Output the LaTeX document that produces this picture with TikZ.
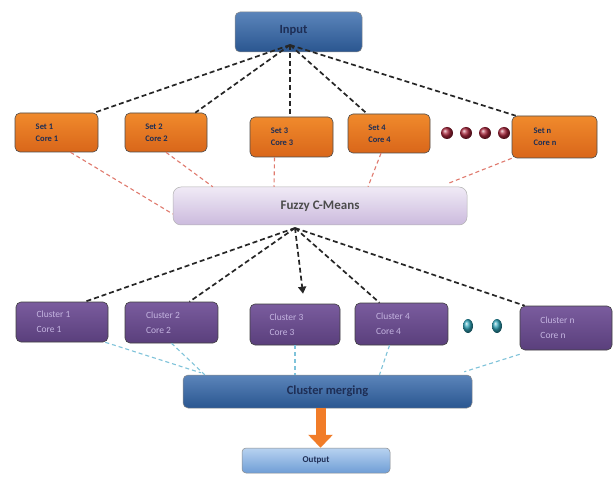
\documentclass[tikz,border=0pt]{standalone}
\usepackage{fontspec}
\setmainfont{Carlito}
\usetikzlibrary{arrows.meta,shadows}
\definecolor{inblue}{HTML}{3E6FAE}
\definecolor{indark}{HTML}{2A5690}
\definecolor{navy}{HTML}{1E2E55}
\definecolor{orangeA}{HTML}{F08A2C}
\definecolor{orangeB}{HTML}{D9661A}
\definecolor{lavA}{HTML}{F0EAF6}
\definecolor{lavB}{HTML}{CBBADD}
\definecolor{purA}{HTML}{7A5C9E}
\definecolor{purB}{HTML}{5A3F7C}
\definecolor{clText}{HTML}{C4B4E0}
\definecolor{outA}{HTML}{B8D2F0}
\definecolor{outB}{HTML}{6F9ED6}
\definecolor{redDash}{HTML}{E07A6E}
\definecolor{cyanDash}{HTML}{7FC3DA}
\definecolor{dotRed}{HTML}{A8243A}
\definecolor{dotTeal}{HTML}{2FA3B8}
\tikzset{
  setbox/.style={draw=black!70, line width=0.6pt, rounded corners=5pt,
    top color=orangeA, bottom color=orangeB, align=left, text=navy,
    font=\bfseries\fontsize{8.5}{12}\selectfont, inner sep=0pt},
  clbox/.style={draw=black!75, line width=0.6pt, rounded corners=5pt,
    top color=purA, bottom color=purB, align=left, text=clText,
    font=\fontsize{9.5}{15}\selectfont, inner sep=0pt},
  bluebox/.style={draw=black!45, line width=0.5pt, rounded corners=5pt,
    top color=inblue!85, bottom color=indark, text=navy},
  blkdash/.style={black!85, dash pattern=on 5pt off 3pt, line width=1.7pt},
  reddash/.style={redDash, dash pattern=on 4pt off 3pt, line width=1.1pt},
  cyandash/.style={cyanDash, dash pattern=on 4pt off 3pt, line width=1.1pt},
}
\begin{document}
\begin{tikzpicture}[x=1pt,y=-1pt]
\useasboundingbox (0,0) rectangle (615,478);
\fill[white] (0,0) rectangle (615,478);

% hubs where the dashed fans meet
\coordinate (hubA) at (290,45);
\coordinate (hubB) at (295,228);

% top row: data sets
\node[setbox, minimum width=83pt, minimum height=39pt] (s1) at (56.5,132.5) {\hspace*{-19pt}Set 1\\\hspace*{-19pt}Core 1};
\node[setbox, minimum width=82pt, minimum height=39pt] (s2) at (166,132.5) {\hspace*{-19pt}Set 2\\\hspace*{-19pt}Core 2};
\node[setbox, minimum width=83pt, minimum height=40pt] (s3) at (291.5,137) {\hspace*{-19pt}Set 3\\\hspace*{-19pt}Core 3};
\node[setbox, minimum width=82pt, minimum height=39pt] (s4) at (389,133.5) {\hspace*{-19pt}Set 4\\\hspace*{-19pt}Core 4};
\node[setbox, minimum width=85pt, minimum height=42pt] (sn) at (554.5,137) {\hspace*{-19pt}Set n\\\hspace*{-19pt}Core n};
\foreach \x in {447,466,485,504}
  \shade[ball color=dotRed] (\x,133) circle (6pt);

% fuzzy c-means bar
\node[draw=black!30, line width=0.5pt, rounded corners=8pt, top color=lavA, bottom color=lavB,
      minimum width=294pt, minimum height=38pt, text=black!70,
      font=\bfseries\fontsize{13}{15}\selectfont] (fz) at (320,206) {Fuzzy C-Means};

% input box
\node[bluebox, minimum width=127pt, minimum height=40pt,
      font=\bfseries\fontsize{12.5}{14}\selectfont] (in) at (298.5,32) {\hspace*{-10pt}\raisebox{6pt}{Input}};

% cluster row
\node[clbox, minimum width=92pt, minimum height=40pt] (c1) at (62,322) {\hspace*{-17pt}Cluster 1\\\hspace*{-17pt}Core 1};
\node[clbox, minimum width=93pt, minimum height=41pt] (c2) at (171.5,322.5) {\hspace*{-17pt}Cluster 2\\\hspace*{-17pt}Core 2};
\node[clbox, minimum width=90pt, minimum height=41pt] (c3) at (295,324.5) {\hspace*{-17pt}Cluster 3\\\hspace*{-17pt}Core 3};
\node[clbox, minimum width=93pt, minimum height=42pt] (c4) at (401.5,324) {\hspace*{-17pt}Cluster 4\\\hspace*{-17pt}Core 4};
\node[clbox, minimum width=92pt, minimum height=44pt] (cn) at (566,328) {\hspace*{-17pt}Cluster n\\\hspace*{-17pt}Core n};
\foreach \x in {468,497}
  \shade[ball color=dotTeal] (\x,326) ellipse (5pt and 7pt);

% merging and output
\node[bluebox, minimum width=289pt, minimum height=33pt,
      font=\bfseries\fontsize{12.5}{14}\selectfont] (mg) at (327.5,391.5) {Cluster merging};
\node[draw=black!45, line width=0.5pt, rounded corners=4pt, top color=outA, bottom color=outB,
      minimum width=148pt, minimum height=25pt, text=navy,
      font=\bfseries\fontsize{9}{11}\selectfont] (out) at (316,460.5) {Output};

% input fans out to the sets
\draw[blkdash] (hubA) -- ([xshift=-4pt]s1.north east);
\draw[blkdash] (hubA) -- ([xshift=-12pt]s2.north east);
\draw[blkdash] (hubA) -- (hubA |- s3.north);
\draw[blkdash] (hubA) -- ([xshift=-22pt]s4.north);
\draw[blkdash] (hubA) -- ([xshift=4pt]sn.north west);

% sets feed the fuzzy c-means
\draw[reddash] ([xshift=14pt]s1.south) -- ([yshift=-8pt]fz.west);
\draw[reddash] (s2.south) -- ([xshift=40pt]fz.north west);
\draw[reddash] ([xshift=-17pt]s3.south) -- ([xshift=-46pt]fz.north);
\draw[reddash] ([xshift=-8pt]s4.south) -- ([xshift=48pt]fz.north);
\draw[reddash] (sn.south west) -- ([xshift=-20pt,yshift=3pt]fz.north east);

% fuzzy c-means fans out to the clusters
\draw[blkdash] (hubB) -- ([xshift=23pt]c1.north);
\draw[blkdash] (hubB) -- ([xshift=18pt]c2.north);
\draw[blkdash, -{Triangle[length=7pt,width=8pt]}] (hubB) -- ([xshift=8pt,yshift=10pt]c3.north);
\draw[blkdash] (hubB) -- ([xshift=-22pt]c4.north);
\draw[blkdash] (hubB) -- ([xshift=5pt]cn.north west);

% clusters feed the merging step
\draw[cyandash] ([xshift=-3pt]c1.south east) -- ([xshift=18pt,yshift=2pt]mg.north west);
\draw[cyandash] (c2.south) -- ([xshift=22pt]mg.north west);
\draw[cyandash] (c3.south) -- (c3.south |- mg.north);
\draw[cyandash] ([xshift=-12pt]c4.south) -- ([xshift=52pt]mg.north);
\draw[cyandash] ([yshift=-4pt]cn.south west) -- ([xshift=-8pt,yshift=3pt]mg.north east);

% merged result to output
\draw[orangeA!90!red, line width=10pt, -{Triangle[width=24pt,length=13pt]}]
  ([xshift=-7pt]mg.south) -- ([xshift=4.5pt]out.north);
\end{tikzpicture}
\end{document}
